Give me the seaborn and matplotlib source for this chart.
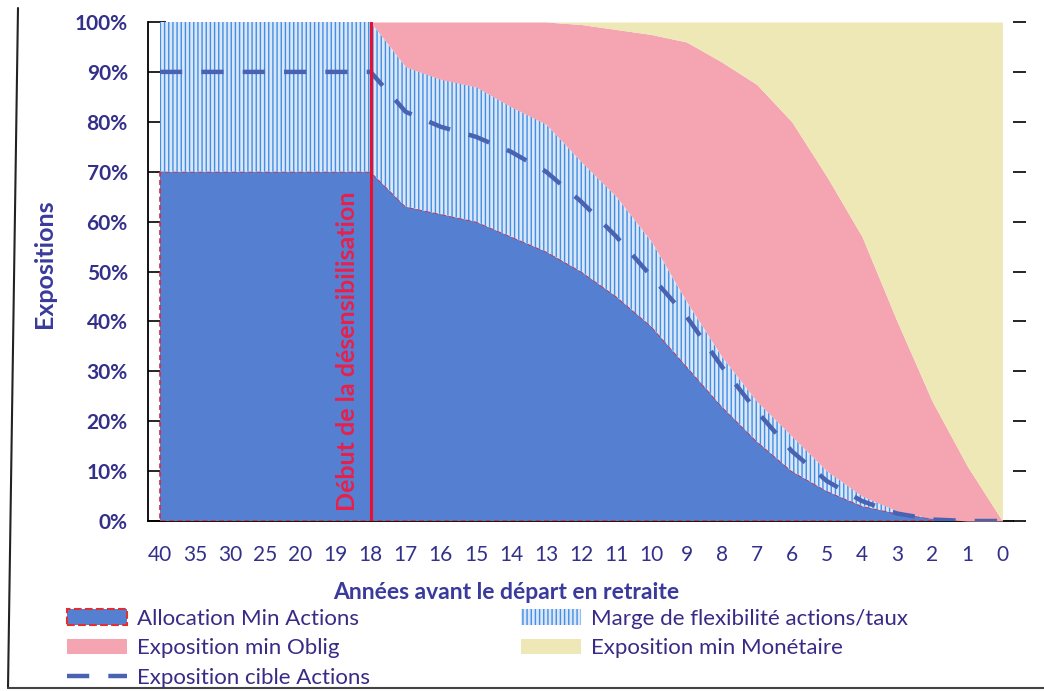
import numpy as np
import matplotlib
matplotlib.use("Agg")
import matplotlib.pyplot as plt
import seaborn as sns
from matplotlib.patches import Patch
from matplotlib.lines import Line2D

# ---------------- data ----------------
annees = ["40", "35", "30", "25", "20", "19", "18", "17", "16", "15", "14", "13",
          "12", "11", "10", "9", "8", "7", "6", "5", "4", "3", "2", "1", "0"]
alloc_min_actions = [70, 70, 70, 70, 70, 70, 70, 63, 61.5, 60, 57, 54, 50, 45, 39,
                     31, 23, 16, 10, 6, 3, 1.5, 0.5, 0, 0]
marge_flexibilite = [30, 30, 30, 30, 30, 30, 30, 28, 27, 27, 26, 25.5, 22, 20, 17,
                     13, 10, 8, 7, 4, 2, 0.5, 0, 0, 0]
expo_min_oblig = [0, 0, 0, 0, 0, 0, 0, 9, 11.5, 13, 17, 20.5, 27.5, 33.5, 41.5,
                  52, 59, 63.5, 63, 59, 52, 38, 23.5, 11, 0]
expo_min_monetaire = [0, 0, 0, 0, 0, 0, 0, 0, 0, 0, 0, 0, 0.5, 1.5, 2.5,
                      4, 8, 12.5, 20, 31, 43, 60, 76, 89, 100]
expo_cible_actions = [90, 90, 90, 90, 90, 90, 90, 82, 79, 77, 74, 70, 64, 57, 49,
                      41, 31, 22, 14, 8, 4, 1.5, 0.3, 0, 0]
y_ticks = [0, 10, 20, 30, 40, 50, 60, 70, 80, 90, 100]
debut_index = 6  # "18"

# ---------------- style ----------------
sns.set_theme(style="white")
plt.rcParams["font.family"] = ["Lato", "DejaVu Sans"]
plt.rcParams["hatch.linewidth"] = 1.0

C_BLUE = "#5580d2"
C_HATCH_BG = "#dbe6f8"
C_HATCH = "#3f8fe6"
C_PINK = "#f5a4b1"
C_YELLOW = "#ede8b6"
C_LINE = "#4a62b2"
C_RED = "#e8102e"
C_TEXT = "#33308a"

fig = plt.figure(figsize=(10.44, 6.91), dpi=100)
W, H = 1044, 691
ax = fig.add_axes([148 / W, 1 - 521 / H, (1013 - 148) / W, (521 - 22) / H])

x = np.arange(len(annees))
polys = ax.stackplot(x, alloc_min_actions, marge_flexibilite, expo_min_oblig,
                     expo_min_monetaire,
                     colors=[C_BLUE, C_HATCH_BG, C_PINK, C_YELLOW], zorder=1)
polys[0].set_edgecolor("#d8283a")
polys[0].set_linestyle((0, (3, 2)))
polys[0].set_linewidth(1.2)
polys[1].set_hatch("||||")
polys[1].set_edgecolor(C_HATCH)
polys[1].set_linewidth(0)
for p in polys[2:]:
    p.set_linewidth(0)

sns.lineplot(x=x, y=expo_cible_actions, ax=ax, color=C_LINE, linewidth=3.2,
             linestyle=(0, (5, 4.3)), zorder=3)

ax.axvline(debut_index, color=C_RED, lw=2.2, zorder=4)
ax.text(debut_index - 0.66, 2, "Début de la désensibilisation", rotation=90,
        color="#e8204a", fontsize=18, fontweight="bold", ha="center", va="bottom",
        zorder=5)

ax.set_xlim((148 - 160) / 35.1, (1013 - 160) / 35.1)
ax.set_ylim(0, 100)
ax.set_xticks(x)
ax.set_xticklabels(annees)
ax.set_yticks(y_ticks)
ax.set_yticklabels([f"{v}%" for v in y_ticks])
ax.set_axisbelow(True)

ax.tick_params(axis="x", length=0, pad=17, labelsize=15, labelcolor=C_TEXT)
ax.tick_params(axis="y", direction="in", length=13, width=1.2, color="black",
               pad=14.5, labelsize=15, labelcolor=C_TEXT, left=True)
for lab in ax.get_yticklabels():
    lab.set_fontweight("bold")
for s in ["top", "right"]:
    ax.spines[s].set_visible(False)
ax.spines["left"].set_color("black")
ax.spines["left"].set_linewidth(1.3)
ax.spines["bottom"].set_color("black")
ax.spines["bottom"].set_linewidth(1.3)
ax.spines["bottom"].set_zorder(0.5)

ax.set_xlabel("Années avant le départ en retraite", fontsize=16.5,
              fontweight="bold", color="#3a3a9c")
ax.xaxis.set_label_coords(0.414, -0.123)
ax.set_ylabel("Expositions", fontsize=18, fontweight="bold", color="#3a3a9c")
ax.yaxis.set_label_coords(-0.106, 0.515)

ax2 = ax.twinx()
ax2.set_ylim(0, 100)
ax2.set_yticks(y_ticks)
ax2.tick_params(axis="y", direction="out", length=9, width=1.2, color="black",
                labelright=False, right=True)
for s in ax2.spines.values():
    s.set_visible(False)

# ---------------- legend ----------------
handles = [
    Patch(facecolor=C_BLUE, edgecolor="#e03030", linestyle="--", linewidth=1.5),
    Patch(facecolor=C_PINK, edgecolor="none"),
    Line2D([], [], color=C_LINE, linewidth=3.2, linestyle=(0, (5, 4.3))),
    Patch(facecolor=C_HATCH_BG, edgecolor=C_HATCH, hatch="||||", linewidth=0),
    Patch(facecolor=C_YELLOW, edgecolor="none"),
]
labels = ["Allocation Min Actions", "Exposition min Oblig", "Exposition cible Actions",
          "Marge de flexibilité actions/taux", "Exposition min Monétaire"]
fig.legend(handles, labels, ncol=2, loc="upper left",
           bbox_to_anchor=(67 / W, 1 - 609 / H), frameon=False, borderpad=0,
           borderaxespad=0, handlelength=2.7, handleheight=0.7, handletextpad=0.45,
           columnspacing=6.8, labelspacing=0.42, fontsize=16, labelcolor="#3a2a85")

# scanned page frame
fig.add_artist(Line2D([18 / W, 8 / W], [1 - 8 / H, 1 - 688 / H],
                      transform=fig.transFigure, color="#222222", lw=1.5))
fig.add_artist(Line2D([8 / W, 1], [1 - 688 / H, 1 - 688 / H],
                      transform=fig.transFigure, color="#444444", lw=1.5))

fig.savefig("out.png", dpi=100)
